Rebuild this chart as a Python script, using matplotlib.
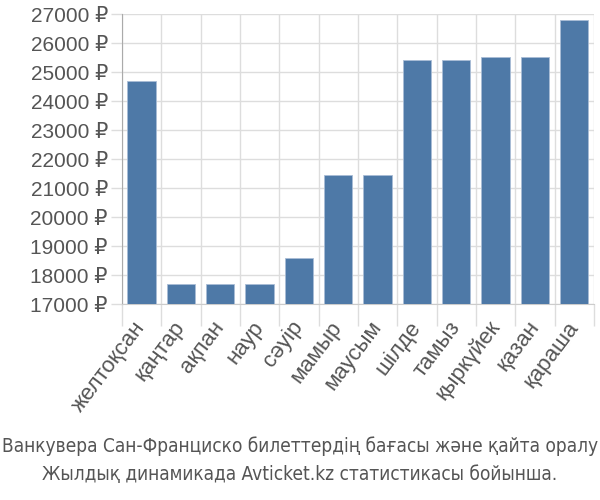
import matplotlib
matplotlib.use('Agg')
import matplotlib.pyplot as plt
import matplotlib.transforms as mtransforms
import numpy as np

# monthly average ticket price, Vancouver - San Francisco
months = ['желтоқсан', 'қаңтар', 'ақпан', 'наур', 'сәуір', 'мамыр', 'маусым',
          'шілде', 'тамыз', 'қыркүйек', 'қазан', 'қараша']
prices = [24680, 17680, 17680, 17680, 18600, 21460, 21460,
          25410, 25410, 25510, 25510, 26790]
yticks = list(range(17000, 28000, 1000))
caption = ['Ванкувера Сан-Франциско билеттердің бағасы және қайта оралу',
           'Жылдық динамикада Avticket.kz статистикасы бойынша.']

plt.rcParams['font.family'] = ['Liberation Sans', 'DejaVu Sans']

fig = plt.figure(figsize=(6, 5), dpi=100)
ax = fig.add_axes([0.203, 0.392, 0.787, 0.58])

x = np.arange(len(months))
ax.bar(x, prices, width=0.72, color='#4e79a7', edgecolor='#a9bdd6', linewidth=0.6, zorder=3)

ax.set_xlim(-0.5, len(months) - 0.5)
ax.set_ylim(17000, 27000)
ax.set_yticks(yticks)
ax.set_yticklabels([f'{v} ₽' for v in yticks], fontsize=15, color='#555555')

# grid lines sit on category boundaries
ax.set_xticks(np.arange(len(months) + 1) - 0.5, minor=True)
ax.set_xticks(x)
ax.set_xticklabels(months, rotation=53, ha='right', va='center', rotation_mode='anchor',
                   fontsize=16, color='#555555')
shift = mtransforms.ScaledTranslation(-8 / 100, 0, fig.dpi_scale_trans)
for lbl in ax.get_xticklabels():
    lbl.set_transform(lbl.get_transform() + shift)
ax.tick_params(axis='x', which='major', length=0, pad=14)
ax.tick_params(axis='x', which='minor', length=16, color='#dddddd', width=1)
ax.tick_params(axis='y', length=8, color='#dddddd', width=1, pad=2)
ax.grid(True, which='minor', axis='x', color='#dddddd', linewidth=1, zorder=0)
ax.grid(True, which='major', axis='y', color='#dddddd', linewidth=1, zorder=0)

for s in ['top', 'right']:
    ax.spines[s].set_visible(False)
ax.spines['left'].set_color('#aaaaaa')
ax.spines['bottom'].set_color('#cccccc')

fig.text(0.5, 0.096, caption[0], ha='center', fontsize=13.7, color='#555555',
         family='DejaVu Sans', fontstretch='condensed')
fig.text(0.5, 0.04, caption[1], ha='center', fontsize=13.7, color='#555555',
         family='DejaVu Sans', fontstretch='condensed')

fig.savefig('out.png', dpi=100)
